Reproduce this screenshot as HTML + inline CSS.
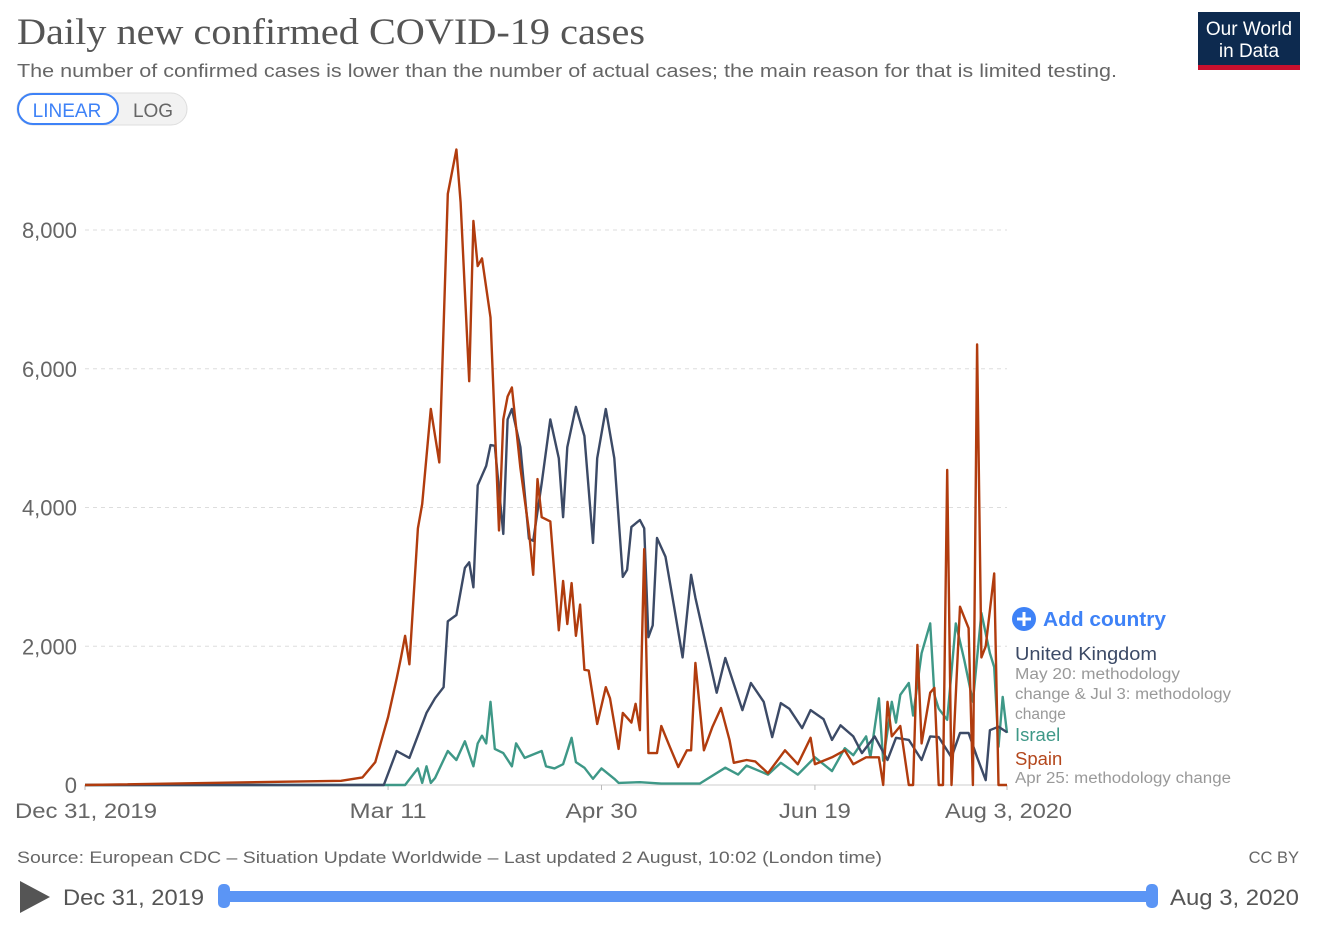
<!DOCTYPE html>
<html><head><meta charset="utf-8">
<style>
body{margin:0;background:#fff;width:1320px;height:920px;overflow:hidden;font-family:"Liberation Sans",sans-serif;}
svg text{font-family:"Liberation Sans",sans-serif;}
</style></head>
<body>
<svg id="chart" width="1320" height="920" viewBox="0 0 1320 920" xmlns="http://www.w3.org/2000/svg">
  <text x="17" y="44" font-size="37" fill="#555" textLength="628" lengthAdjust="spacingAndGlyphs" style="font-family:'Liberation Serif',serif">Daily new confirmed COVID-19 cases</text>
  <text x="17" y="77" font-size="18.5" fill="#666" textLength="1100" lengthAdjust="spacingAndGlyphs">The number of confirmed cases is lower than the number of actual cases; the main reason for that is limited testing.</text>
  <g>
    <rect x="1198" y="12" width="102" height="53" fill="#0d2a4f"/>
    <rect x="1198" y="65" width="102" height="5" fill="#c8102e"/>
    <text x="1249" y="35" font-size="19" fill="#fff" text-anchor="middle">Our World</text>
    <text x="1249" y="57" font-size="19" fill="#fff" text-anchor="middle">in Data</text>
  </g>
  <g>
    <rect x="17" y="93" width="170" height="32" rx="16" fill="#f2f2f2" stroke="#ddd"/>
    <rect x="18" y="94" width="100" height="30" rx="15" fill="#fff" stroke="#3e82f7" stroke-width="2"/>
    <text x="67" y="117" font-size="19" fill="#3e82f7" text-anchor="middle">LINEAR</text>
    <text x="153" y="117" font-size="19" fill="#666" text-anchor="middle">LOG</text>
  </g>
  <g id="grid"></g>
  <g id="series"></g>
  <g>
    <circle cx="1024" cy="619" r="12" fill="#3e82f7"/>
    <path d="M1024 612v14M1017 619h14" stroke="#fff" stroke-width="3"/>
    <text x="1043" y="626" font-size="20" font-weight="bold" fill="#3e82f7" textLength="123" lengthAdjust="spacingAndGlyphs">Add country</text>
    <text x="1015" y="660" font-size="18.5" fill="#3c4a66" textLength="142" lengthAdjust="spacingAndGlyphs">United Kingdom</text>
    <text x="1015" y="679" font-size="15.5" fill="#999" textLength="165" lengthAdjust="spacingAndGlyphs">May 20: methodology</text>
    <text x="1015" y="699" font-size="15.5" fill="#999" textLength="216" lengthAdjust="spacingAndGlyphs">change &amp; Jul 3: methodology</text>
    <text x="1015" y="719" font-size="15.5" fill="#999">change</text>
    <text x="1015" y="741" font-size="18.5" fill="#3e9887">Israel</text>
    <text x="1015" y="765" font-size="18.5" fill="#b4471c">Spain</text>
    <text x="1015" y="783" font-size="15.5" fill="#999" textLength="216" lengthAdjust="spacingAndGlyphs">Apr 25: methodology change</text>
  </g>
  <text x="17" y="863" font-size="16.5" fill="#666" textLength="865" lengthAdjust="spacingAndGlyphs">Source: European CDC – Situation Update Worldwide – Last updated 2 August, 10:02 (London time)</text>
  <text x="1299" y="863" font-size="16.5" fill="#666" text-anchor="end">CC BY</text>
  <g>
    <path d="M20 881 L50 897 L20 913 Z" fill="#555"/>
    <text x="63" y="905" font-size="22" fill="#555" textLength="141" lengthAdjust="spacingAndGlyphs">Dec 31, 2019</text>
    <rect x="224" y="891" width="930" height="11" rx="5" fill="#5b95f5"/>
    <rect x="218" y="884" width="12" height="24" rx="5" fill="#5b95f5"/>
    <rect x="1146" y="884" width="12" height="24" rx="5" fill="#5b95f5"/>
    <text x="1170" y="905" font-size="22" fill="#555" textLength="129" lengthAdjust="spacingAndGlyphs">Aug 3, 2020</text>
  </g>
</svg>
<script>
const yTicks = [0, 2000, 4000, 6000, 8000];
const yTickLabels = ["0", "2,000", "4,000", "6,000", "8,000"];
const xTickDays = [0, 71, 121, 171, 216];
const xTickLabels = ["Dec 31, 2019", "Mar 11", "Apr 30", "Jun 19", "Aug 3, 2020"];
const spainDays = [0,60,65,68,71,73,74,75,76,78,79,81,83,85,87,88,90,91,92,93,95,97,98,99,100,102,104,105,106,107,109,111,112,113,114,115,116,117,118,120,122,123,125,126,128,129,130,131,132,134,135,137,139,141,142,143,145,147,149,151,152,155,157,160,164,167,170,171,175,178,180,183,186,187,188,189,191,193,194,195,196,198,199,200,201,202,203,205,207,208,209,210,211,213,214,216];
const spainValues = [0,60,110,330,980,1530,1830,2150,1740,3700,4050,5420,4650,8520,9160,8400,5820,8130,7480,7590,6740,3670,5270,5600,5730,4570,3670,3030,4410,3860,3800,2230,2940,2320,2910,2150,2600,1660,1650,880,1410,1250,520,1040,900,1170,790,3400,460,460,850,550,260,500,500,1760,500,840,1110,650,320,360,340,170,500,300,680,300,400,500,300,400,400,0,1200,700,850,0,0,2020,600,1330,1400,0,0,4540,0,2570,2260,0,6350,1840,2000,3050,0,0];
const ukDays = [0,70,73,76,80,82,84,85,87,89,90,91,92,94,95,96,98,99,100,102,104,105,107,109,111,112,113,115,117,119,120,122,124,126,127,128,130,131,132,133,134,136,138,140,142,143,148,150,154,156,159,161,163,165,168,170,173,175,177,180,182,185,188,190,193,196,198,200,203,205,207,209,211,212,214,216];
const ukValues = [0,0,490,390,1040,1250,1410,2360,2450,3130,3210,2850,4320,4600,4900,4890,3620,5270,5420,4870,3550,3520,4350,5270,4710,3860,4870,5450,5030,3490,4710,5420,4710,3000,3100,3720,3820,3700,2130,2300,3560,3290,2570,1840,3030,2700,1330,1830,1080,1470,1200,690,1180,1100,820,1080,950,650,860,700,460,700,360,680,650,360,700,690,400,750,750,400,70,790,840,760];
const israelDays = [0,75,78,79,80,81,82,85,87,89,91,92,93,94,95,96,98,100,101,103,107,108,110,112,114,115,117,119,121,124,125,130,135,144,150,153,155,160,163,167,171,175,178,180,183,184,186,187,189,190,191,193,194,196,198,199,200,202,204,206,208,210,212,213,214,215,216];
const israelValues = [0,0,240,30,270,30,100,490,360,630,270,600,710,600,1200,520,460,270,600,390,490,270,240,300,680,330,250,90,240,90,30,40,20,20,250,150,280,150,320,150,400,200,530,430,700,400,1250,350,1200,900,1300,1470,1000,1900,2330,1300,1100,940,2330,1800,1200,2480,1900,1700,550,1270,750];

const X0 = 85, X1 = 1007, DAYS = 216, Y0 = 785, YPER = 138.75 / 2000;
function xScale(d) { return X0 + (X1 - X0) * d / DAYS; }
function yScale(v) { return Y0 - v * YPER; }
const NS = "http://www.w3.org/2000/svg";
const grid = document.getElementById('grid');
yTicks.forEach((t, i) => {
  const ln = document.createElementNS(NS, 'line');
  ln.setAttribute('x1', X0); ln.setAttribute('x2', X1);
  ln.setAttribute('y1', yScale(t)); ln.setAttribute('y2', yScale(t));
  ln.setAttribute('stroke', t === 0 ? '#ccc' : '#ddd');
  if (t !== 0) ln.setAttribute('stroke-dasharray', '4,4');
  
  
  grid.appendChild(ln);
  const tx = document.createElementNS(NS, 'text');
  tx.setAttribute('x', 77); tx.setAttribute('y', yScale(t) + 8);
  tx.setAttribute('text-anchor', 'end'); tx.setAttribute('font-size', '22'); tx.setAttribute('fill', '#666');
  tx.textContent = yTickLabels[i];
  
  
  grid.appendChild(tx);
});
const xLabelWidths = [142, 77, 72, 72, 127];
xTickDays.forEach((d, i) => {
  const tk = document.createElementNS(NS, 'line');
  tk.setAttribute('x1', xScale(d)); tk.setAttribute('x2', xScale(d));
  tk.setAttribute('y1', Y0); tk.setAttribute('y2', Y0 + 5); tk.setAttribute('stroke', '#bbb');
  
  
  grid.appendChild(tk);
  const tx = document.createElementNS(NS, 'text');
  let x = xScale(d) - xLabelWidths[i] / 2;
  if (i === 0) x = 15;
  if (i === xTickDays.length - 1) x = 945;
  tx.setAttribute('x', x);
  tx.setAttribute('y', 818); tx.setAttribute('font-size', '21'); tx.setAttribute('fill', '#666');
  tx.setAttribute('textLength', xLabelWidths[i]); tx.setAttribute('lengthAdjust', 'spacingAndGlyphs');
  tx.textContent = xTickLabels[i];
  
  
  grid.appendChild(tx);
});
const sg = document.getElementById('series');
function drawLine(days, vals, color, name) {
  const p = document.createElementNS(NS, 'polyline');
  p.setAttribute('points', days.map((d, i) => xScale(d).toFixed(1) + ',' + yScale(vals[i]).toFixed(1)).join(' '));
  p.setAttribute('fill', 'none'); p.setAttribute('stroke', color);
  p.setAttribute('stroke-width', '2.4'); p.setAttribute('stroke-linejoin', 'round');
  
  
  sg.appendChild(p);
}
drawLine(israelDays, israelValues, '#3e9887', 'israel-line');
drawLine(ukDays, ukValues, '#3c4a66', 'uk-line');
drawLine(spainDays, spainValues, '#b13c0e', 'spain-line');
</script>
</body></html>
